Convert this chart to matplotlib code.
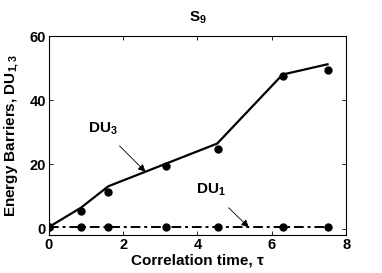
import matplotlib
matplotlib.use('Agg')
import matplotlib.pyplot as plt

# DU3 fitted line (solid) and measured points
tau_line = [0, 0.86, 1.6, 4.53, 6.29, 7.5]
du3_line = [0.5, 6.5, 13.2, 26.5, 48.0, 51.2]
tau_pts = [0, 0.86, 1.58, 3.15, 4.55, 6.29, 7.5]
du3_pts = [0.5, 5.5, 11.3, 19.5, 24.9, 47.6, 49.4]
# DU1 stays near zero
du1_pts = [0.4, 0.4, 0.4, 0.4, 0.4, 0.4, 0.4]

plt.rcParams['font.family'] = ['Liberation Sans', 'DejaVu Sans']
plt.rcParams['font.weight'] = 'bold'
plt.rcParams['mathtext.fontset'] = 'custom'
plt.rcParams['mathtext.rm'] = 'Liberation Sans:bold'
plt.rcParams['mathtext.bf'] = 'Liberation Sans:bold'
plt.rcParams['mathtext.it'] = 'Liberation Serif:italic'

fig = plt.figure(figsize=(3.82, 2.73), dpi=100)
ax = fig.add_axes([0.128, 0.139, 0.778, 0.729])

ax.plot(tau_line, du3_line, color='black', lw=1.6)
ax.plot(tau_pts, du3_pts, 'o', color='black', ms=5)
ax.plot(tau_pts, du1_pts, color='black', lw=1.4, marker='o', ms=5,
        linestyle=(0, (5, 2, 1.5, 2)))

ax.set_xlim(0, 8)
ax.set_ylim(-2, 60)
ax.set_xticks([0, 2, 4, 6, 8])
ax.set_yticks([0, 20, 40, 60])
ax.tick_params(direction='in', top=True, right=True, labelsize=10.5, length=3, width=0.6, pad=2)
for lbl in ax.get_xticklabels() + ax.get_yticklabels():
    lbl.set_fontweight('bold')
for s in ax.spines.values():
    s.set_linewidth(0.8)

ax.set_xlabel('Correlation time, τ', fontsize=11, fontweight='bold', labelpad=1)
ax.set_ylabel(r'Energy Barriers, DU$_{1,3}$', fontsize=11, fontweight='bold', labelpad=6)
ax.set_title(r'S$_{9}$', fontsize=11, fontweight='bold', pad=10)

ax.annotate(r'DU$_{3}$', xy=(2.6, 17.7), xytext=(1.45, 31),
            fontsize=11, fontweight='bold', ha='center', va='center',
            arrowprops=dict(arrowstyle='-|>', color='black', lw=0.6, shrinkA=6, shrinkB=0))
ax.annotate(r'DU$_{1}$', xy=(5.38, 0.4), xytext=(4.35, 12),
            fontsize=11, fontweight='bold', ha='center', va='center',
            arrowprops=dict(arrowstyle='-|>', color='black', lw=0.6, shrinkA=7, shrinkB=0))

fig.savefig('out.png', dpi=100)
